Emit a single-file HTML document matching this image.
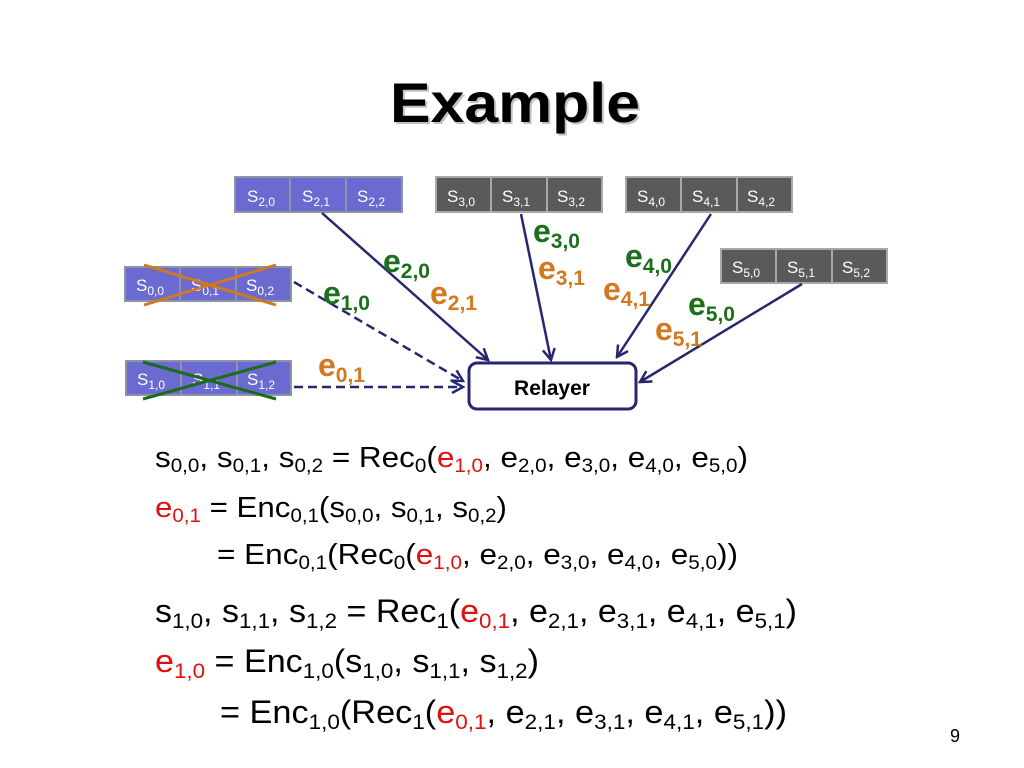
<!DOCTYPE html>
<html><head><meta charset="utf-8"><style>
html,body{margin:0;padding:0;background:#fff;}
svg{display:block;font-family:"Liberation Sans",sans-serif;}
</style></head><body>
<svg width="1024" height="768" viewBox="0 0 1024 768" xmlns="http://www.w3.org/2000/svg">
<defs>
<marker id="ar" markerWidth="14" markerHeight="14" refX="12" refY="7" orient="auto" markerUnits="userSpaceOnUse">
<path d="M1,1 L12,7 L1,13" fill="none" stroke="#26276f" stroke-width="2.5"/>
</marker>
</defs>
<text x="392" y="124" font-size="56" font-weight="bold" fill="#999" opacity="0.6" textLength="250" lengthAdjust="spacingAndGlyphs">Example</text>
<text x="390" y="122" font-size="56" font-weight="bold" fill="#000" textLength="250" lengthAdjust="spacingAndGlyphs">Example</text>

<g font-size="17" fill="#fff">
<g>
<rect x="235" y="177" width="167" height="35" fill="#6a6ad0" stroke="#8a94a6" stroke-width="2"/>
<line x1="290" y1="177" x2="290" y2="212" stroke="#8a94a6" stroke-width="2"/><line x1="346" y1="177" x2="346" y2="212" stroke="#8a94a6" stroke-width="2"/>
<text x="247" y="202">S<tspan font-size="12" dy="4">2,0</tspan></text>
<text x="302" y="202">S<tspan font-size="12" dy="4">2,1</tspan></text>
<text x="357" y="202">S<tspan font-size="12" dy="4">2,2</tspan></text>
</g>
<g>
<rect x="436" y="177" width="166" height="35" fill="#5a5a5a" stroke="#a8a8a8" stroke-width="2"/>
<line x1="491" y1="177" x2="491" y2="212" stroke="#a8a8a8" stroke-width="2"/><line x1="547" y1="177" x2="547" y2="212" stroke="#a8a8a8" stroke-width="2"/>
<text x="447" y="202">S<tspan font-size="12" dy="4">3,0</tspan></text>
<text x="502" y="202">S<tspan font-size="12" dy="4">3,1</tspan></text>
<text x="557" y="202">S<tspan font-size="12" dy="4">3,2</tspan></text>
</g>
<g>
<rect x="626" y="177" width="166" height="35" fill="#5a5a5a" stroke="#a8a8a8" stroke-width="2"/>
<line x1="681" y1="177" x2="681" y2="212" stroke="#a8a8a8" stroke-width="2"/><line x1="737" y1="177" x2="737" y2="212" stroke="#a8a8a8" stroke-width="2"/>
<text x="637" y="202">S<tspan font-size="12" dy="4">4,0</tspan></text>
<text x="692" y="202">S<tspan font-size="12" dy="4">4,1</tspan></text>
<text x="747" y="202">S<tspan font-size="12" dy="4">4,2</tspan></text>
</g>
<g>
<rect x="721" y="249" width="166" height="34" fill="#5a5a5a" stroke="#a8a8a8" stroke-width="2"/>
<line x1="776" y1="249" x2="776" y2="283" stroke="#a8a8a8" stroke-width="2"/><line x1="832" y1="249" x2="832" y2="283" stroke="#a8a8a8" stroke-width="2"/>
<text x="732" y="273">S<tspan font-size="12" dy="4">5,0</tspan></text>
<text x="787" y="273">S<tspan font-size="12" dy="4">5,1</tspan></text>
<text x="842" y="273">S<tspan font-size="12" dy="4">5,2</tspan></text>
</g>
<g>
<rect x="125" y="267" width="166" height="34" fill="#6a6ad0" stroke="#8a94a6" stroke-width="2"/>
<line x1="180" y1="267" x2="180" y2="301" stroke="#8a94a6" stroke-width="2"/><line x1="236" y1="267" x2="236" y2="301" stroke="#8a94a6" stroke-width="2"/>
<text x="136" y="291">S<tspan font-size="12" dy="4">0,0</tspan></text>
<text x="191" y="291">S<tspan font-size="12" dy="4">0,1</tspan></text>
<text x="246" y="291">S<tspan font-size="12" dy="4">0,2</tspan></text>
<line x1="144" y1="305" x2="276" y2="265" stroke="#d2781e" stroke-width="3"/>
<line x1="144" y1="265" x2="276" y2="305" stroke="#d2781e" stroke-width="3"/>
</g>
<g>
<rect x="126" y="361" width="165" height="34" fill="#6a6ad0" stroke="#8a94a6" stroke-width="2"/>
<line x1="181" y1="361" x2="181" y2="395" stroke="#8a94a6" stroke-width="2"/><line x1="237" y1="361" x2="237" y2="395" stroke="#8a94a6" stroke-width="2"/>
<text x="137" y="385">S<tspan font-size="12" dy="4">1,0</tspan></text>
<text x="192" y="385">S<tspan font-size="12" dy="4">1,1</tspan></text>
<text x="247" y="385">S<tspan font-size="12" dy="4">1,2</tspan></text>
<line x1="143" y1="399" x2="276" y2="362" stroke="#1b6b1b" stroke-width="3"/>
<line x1="143" y1="362" x2="276" y2="399" stroke="#1b6b1b" stroke-width="3"/>
</g>
</g>

<g stroke="#26276f" stroke-width="2.5" fill="none">
<line x1="322" y1="213" x2="488" y2="360" marker-end="url(#ar)"/>
<line x1="521" y1="214" x2="551" y2="360" marker-end="url(#ar)"/>
<line x1="711" y1="214" x2="617" y2="357" marker-end="url(#ar)"/>
<line x1="802" y1="284" x2="640" y2="382" marker-end="url(#ar)"/>
<line x1="294" y1="282" x2="463" y2="381" stroke-dasharray="9,5" marker-end="url(#ar)"/>
<line x1="294" y1="387" x2="463" y2="387" stroke-dasharray="9,5" marker-end="url(#ar)"/>
</g>
<rect x="469" y="363" width="167" height="46" rx="8" fill="#fff" stroke="#26276f" stroke-width="3"/>
<text x="552" y="395" font-size="21" font-weight="bold" text-anchor="middle">Relayer</text>

<g font-size="32" font-weight="bold">
<text x="383" y="272" fill="#1b6f1b">e<tspan font-size="21" dy="6">2,0</tspan></text>
<text x="430" y="304" fill="#d2781e">e<tspan font-size="21" dy="6">2,1</tspan></text>
<text x="323" y="304" fill="#1b6f1b">e<tspan font-size="21" dy="6">1,0</tspan></text>
<text x="318" y="376" fill="#d2781e">e<tspan font-size="21" dy="6">0,1</tspan></text>
<text x="533" y="242" fill="#1b6f1b">e<tspan font-size="21" dy="6">3,0</tspan></text>
<text x="538" y="279" fill="#d2781e">e<tspan font-size="21" dy="6">3,1</tspan></text>
<text x="625" y="267" fill="#1b6f1b">e<tspan font-size="21" dy="6">4,0</tspan></text>
<text x="603" y="300" fill="#d2781e">e<tspan font-size="21" dy="6">4,1</tspan></text>
<text x="688" y="315" fill="#1b6f1b">e<tspan font-size="21" dy="6">5,0</tspan></text>
<text x="655" y="340" fill="#d2781e">e<tspan font-size="21" dy="6">5,1</tspan></text>
</g>

<g font-size="29" fill="#000">
<text x="155" y="467" textLength="593" lengthAdjust="spacingAndGlyphs">s<tspan font-size="19" dy="5">0,0</tspan><tspan dy="-5">, s</tspan><tspan font-size="19" dy="5">0,1</tspan><tspan dy="-5">, s</tspan><tspan font-size="19" dy="5">0,2</tspan><tspan dy="-5"> = Rec</tspan><tspan font-size="19" dy="5">0</tspan><tspan dy="-5">(</tspan><tspan fill="#e01010">e</tspan><tspan font-size="19" dy="5" fill="#e01010">1,0</tspan><tspan dy="-5">, e</tspan><tspan font-size="19" dy="5">2,0</tspan><tspan dy="-5">, e</tspan><tspan font-size="19" dy="5">3,0</tspan><tspan dy="-5">, e</tspan><tspan font-size="19" dy="5">4,0</tspan><tspan dy="-5">, e</tspan><tspan font-size="19" dy="5">5,0</tspan><tspan dy="-5">)</tspan></text>
<text x="155" y="517" textLength="352" lengthAdjust="spacingAndGlyphs"><tspan fill="#e01010">e</tspan><tspan font-size="19" dy="5" fill="#e01010">0,1</tspan><tspan dy="-5"> = Enc</tspan><tspan font-size="19" dy="5">0,1</tspan><tspan dy="-5">(s</tspan><tspan font-size="19" dy="5">0,0</tspan><tspan dy="-5">, s</tspan><tspan font-size="19" dy="5">0,1</tspan><tspan dy="-5">, s</tspan><tspan font-size="19" dy="5">0,2</tspan><tspan dy="-5">)</tspan></text>
<text x="217" y="564" textLength="521" lengthAdjust="spacingAndGlyphs">= Enc<tspan font-size="19" dy="5">0,1</tspan><tspan dy="-5">(Rec</tspan><tspan font-size="19" dy="5">0</tspan><tspan dy="-5">(</tspan><tspan fill="#e01010">e</tspan><tspan font-size="19" dy="5" fill="#e01010">1,0</tspan><tspan dy="-5">, e</tspan><tspan font-size="19" dy="5">2,0</tspan><tspan dy="-5">, e</tspan><tspan font-size="19" dy="5">3,0</tspan><tspan dy="-5">, e</tspan><tspan font-size="19" dy="5">4,0</tspan><tspan dy="-5">, e</tspan><tspan font-size="19" dy="5">5,0</tspan><tspan dy="-5">))</tspan></text>
</g>
<g font-size="32" fill="#000">
<text x="155" y="622" textLength="642" lengthAdjust="spacingAndGlyphs">s<tspan font-size="21" dy="6">1,0</tspan><tspan dy="-6">, s</tspan><tspan font-size="21" dy="6">1,1</tspan><tspan dy="-6">, s</tspan><tspan font-size="21" dy="6">1,2</tspan><tspan dy="-6"> = Rec</tspan><tspan font-size="21" dy="6">1</tspan><tspan dy="-6">(</tspan><tspan fill="#e01010">e</tspan><tspan font-size="21" dy="6" fill="#e01010">0,1</tspan><tspan dy="-6">, e</tspan><tspan font-size="21" dy="6">2,1</tspan><tspan dy="-6">, e</tspan><tspan font-size="21" dy="6">3,1</tspan><tspan dy="-6">, e</tspan><tspan font-size="21" dy="6">4,1</tspan><tspan dy="-6">, e</tspan><tspan font-size="21" dy="6">5,1</tspan><tspan dy="-6">)</tspan></text>
<text x="155" y="672" textLength="384" lengthAdjust="spacingAndGlyphs"><tspan fill="#e01010">e</tspan><tspan font-size="21" dy="6" fill="#e01010">1,0</tspan><tspan dy="-6"> = Enc</tspan><tspan font-size="21" dy="6">1,0</tspan><tspan dy="-6">(s</tspan><tspan font-size="21" dy="6">1,0</tspan><tspan dy="-6">, s</tspan><tspan font-size="21" dy="6">1,1</tspan><tspan dy="-6">, s</tspan><tspan font-size="21" dy="6">1,2</tspan><tspan dy="-6">)</tspan></text>
<text x="220" y="723" textLength="567" lengthAdjust="spacingAndGlyphs">= Enc<tspan font-size="21" dy="6">1,0</tspan><tspan dy="-6">(Rec</tspan><tspan font-size="21" dy="6">1</tspan><tspan dy="-6">(</tspan><tspan fill="#e01010">e</tspan><tspan font-size="21" dy="6" fill="#e01010">0,1</tspan><tspan dy="-6">, e</tspan><tspan font-size="21" dy="6">2,1</tspan><tspan dy="-6">, e</tspan><tspan font-size="21" dy="6">3,1</tspan><tspan dy="-6">, e</tspan><tspan font-size="21" dy="6">4,1</tspan><tspan dy="-6">, e</tspan><tspan font-size="21" dy="6">5,1</tspan><tspan dy="-6">))</tspan></text>
</g>
<text x="950" y="742" font-size="18">9</text>
</svg>
</body></html>
